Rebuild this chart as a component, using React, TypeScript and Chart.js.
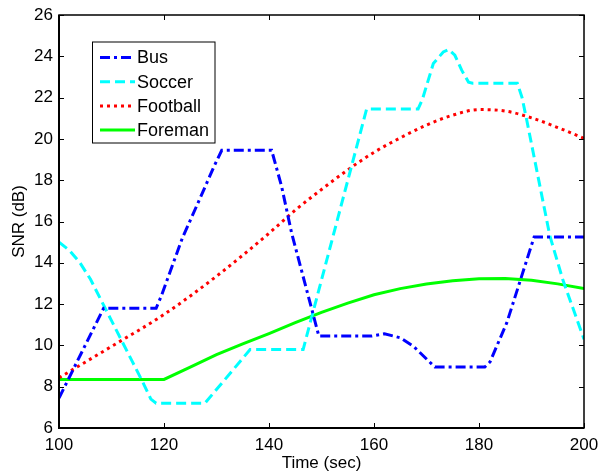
import React, { useEffect, useRef } from "react";
import { Chart, registerables } from "chart.js";

Chart.register(...registerables);

// Time axis (sec) and SNR axis (dB) tick values
const timeTicks = [100, 120, 140, 160, 180, 200];
const snrTicks = [6, 8, 10, 12, 14, 16, 18, 20, 22, 24, 26];

const seriesNames = ["Bus", "Soccer", "Football", "Foreman"];

// Bus sequence
const busTime = [100, 108.5, 118.5, 119.5, 123.5, 127, 129.5, 131, 140.5, 142.4, 144.3, 149.5, 159.5, 162, 165, 167.5, 171.6, 181.1, 182.1, 185.3, 190.5, 200];
const busSnr = [7.45, 11.8, 11.8, 12.4, 15.2, 17.2, 18.65, 19.45, 19.45, 17.7, 15.45, 10.45, 10.45, 10.56, 10.37, 9.96, 8.95, 8.95, 9.2, 11.1, 15.25, 15.25];

// Soccer sequence
const soccerTime = [100, 102, 104, 106, 108, 110, 112, 114, 116, 117.5, 118.5, 127.8, 136.4, 146.5, 158.6, 168.4, 169.2, 171.3, 173.2, 174.2, 175.4, 176.7, 178, 178.8, 187.3, 188.2, 189.1, 193.5, 196, 200];
const soccerSnr = [15.0, 14.6, 14.0, 13.2, 12.2, 11.2, 10.2, 9.2, 8.2, 7.4, 7.2, 7.2, 9.8, 9.8, 21.45, 21.45, 21.9, 23.65, 24.21, 24.33, 24.05, 23.33, 22.75, 22.7, 22.7, 22.0, 20.9, 15.3, 13.15, 10.3];

// Football sequence
const footballTime = [100, 110, 120, 130, 140, 145, 150, 155, 160, 165, 170, 175, 180, 185, 190, 195, 200];
const footballSnr = [8.43, 9.95, 11.5, 13.35, 15.43, 16.55, 17.55, 18.5, 19.35, 20.05, 20.67, 21.15, 21.42, 21.35, 21.02, 20.55, 20.03];

// Foreman sequence
const foremanTime = [100, 120, 125, 130, 135, 140, 145, 150, 155, 160, 165, 170, 175, 180, 185, 190, 195, 200];
const foremanSnr = [8.35, 8.35, 8.95, 9.55, 10.07, 10.57, 11.1, 11.6, 12.05, 12.45, 12.75, 12.97, 13.13, 13.23, 13.24, 13.15, 12.98, 12.75];

const FONT = "'Liberation Sans', Arial, Helvetica, sans-serif";

const toPoints = (xs: number[], ys: number[]) => xs.map((x, i) => ({ x, y: ys[i] }));

// Frame with inward ticks on all four sides, plus the boxed legend inside the plot
const framePlugin = {
  id: "frameAndLegend",
  afterDraw(chart: any) {
    const { ctx, chartArea } = chart;
    const { left, right, top, bottom } = chartArea;
    const xs = chart.scales.x;
    const ys = chart.scales.y;
    ctx.save();
    ctx.strokeStyle = "#000";
    ctx.lineWidth = 1;
    const tl = 5;
    ctx.beginPath();
    timeTicks.forEach((t) => {
      const px = Math.round(xs.getPixelForValue(t)) + 0.5;
      ctx.moveTo(px, bottom);
      ctx.lineTo(px, bottom - tl);
      ctx.moveTo(px, top);
      ctx.lineTo(px, top + tl);
    });
    snrTicks.forEach((v) => {
      const py = Math.round(ys.getPixelForValue(v)) + 0.5;
      ctx.moveTo(left, py);
      ctx.lineTo(left + tl, py);
      ctx.moveTo(right, py);
      ctx.lineTo(right - tl, py);
    });
    ctx.stroke();
    ctx.lineWidth = 1.5;
    ctx.strokeRect(left, top, right - left, bottom - top);
    // slightly heavier left and bottom axis lines
    ctx.lineWidth = 2;
    ctx.beginPath();
    ctx.moveTo(left, top);
    ctx.lineTo(left, bottom);
    ctx.lineTo(right, bottom);
    ctx.stroke();

    // legend
    const bx = 92.5, by = 42, bw = 122.5, bh = 101;
    ctx.fillStyle = "#fff";
    ctx.fillRect(bx, by, bw, bh);
    ctx.lineWidth = 1;
    ctx.strokeStyle = "#000";
    ctx.strokeRect(bx, by, bw, bh);
    chart.data.datasets.forEach((ds: any, i: number) => {
      const y = 57.5 + i * 24.2;
      ctx.save();
      ctx.strokeStyle = ds.borderColor;
      ctx.lineWidth = ds.borderWidth;
      ctx.setLineDash(ds.borderDash || []);
      ctx.beginPath();
      ctx.moveTo(100, y);
      ctx.lineTo(135, y);
      ctx.stroke();
      ctx.restore();
      ctx.fillStyle = "#000";
      ctx.font = `18px ${FONT}`;
      ctx.textBaseline = "middle";
      ctx.textAlign = "left";
      ctx.fillText(ds.label, 137, y + 1);
    });
    ctx.restore();
  },
};

export default function App() {
  const canvasRef = useRef<HTMLCanvasElement | null>(null);

  useEffect(() => {
    const canvas = canvasRef.current;
    if (!canvas) return;
    const chart = new Chart(canvas, {
      type: "line",
      data: {
        datasets: [
          {
            label: seriesNames[0],
            data: toPoints(busTime, busSnr),
            borderColor: "#0000ff",
            borderWidth: 3,
            borderDash: [10, 4, 3, 4],
            pointRadius: 0,
            tension: 0,
            fill: false,
          },
          {
            label: seriesNames[1],
            data: toPoints(soccerTime, soccerSnr),
            borderColor: "#00ffff",
            borderWidth: 3,
            borderDash: [10, 5],
            pointRadius: 0,
            tension: 0,
            fill: false,
          },
          {
            label: seriesNames[2],
            data: toPoints(footballTime, footballSnr),
            borderColor: "#ff0000",
            borderWidth: 3,
            borderDash: [3, 4],
            pointRadius: 0,
            cubicInterpolationMode: "monotone",
            fill: false,
          },
          {
            label: seriesNames[3],
            data: toPoints(foremanTime, foremanSnr),
            borderColor: "#00ff00",
            borderWidth: 3,
            pointRadius: 0,
            tension: 0,
            fill: false,
          },
        ],
      },
      options: {
        responsive: false,
        animation: false,
        devicePixelRatio: 1,
        layout: { padding: { top: 15, right: 15, left: 0, bottom: 0 } },
        plugins: {
          legend: { display: false },
          tooltip: { enabled: false },
        },
        scales: {
          x: {
            type: "linear",
            min: 100,
            max: 200,
            afterBuildTicks: (s: any) => {
              s.ticks = timeTicks.map((v) => ({ value: v }));
            },
            afterFit: (s: any) => {
              s.height = 47;
              s.paddingLeft = 0;
              s.paddingRight = 0;
            },
            grid: { display: false, drawTicks: false },
            border: { display: false },
            ticks: {
              color: "#000",
              padding: 7,
              maxRotation: 0,
              autoSkip: false,
              font: { family: FONT, size: 17 },
            },
            title: {
              display: true,
              text: "Time (sec)",
              color: "#000",
              font: { family: FONT, size: 17 },
              padding: { top: 0, bottom: 1 },
            },
          },
          y: {
            type: "linear",
            min: 6,
            max: 26,
            afterBuildTicks: (s: any) => {
              s.ticks = snrTicks.map((v) => ({ value: v }));
            },
            afterFit: (s: any) => {
              s.width = 59;
              s.paddingTop = 0;
              s.paddingBottom = 0;
            },
            grid: { display: false, drawTicks: false },
            border: { display: false },
            ticks: {
              color: "#000",
              padding: 6,
              autoSkip: false,
              font: { family: FONT, size: 17 },
            },
            title: {
              display: true,
              text: "SNR (dB)",
              color: "#000",
              font: { family: FONT, size: 17 },
              padding: { top: 9, bottom: 0 },
            },
          },
        },
      },
      plugins: [framePlugin],
    });
    return () => chart.destroy();
  }, []);

  return (
    <div style={{ position: "fixed", left: 0, top: 0, width: 599, height: 475, background: "#fff" }}>
      <canvas ref={canvasRef} width={599} height={475} />
    </div>
  );
}
